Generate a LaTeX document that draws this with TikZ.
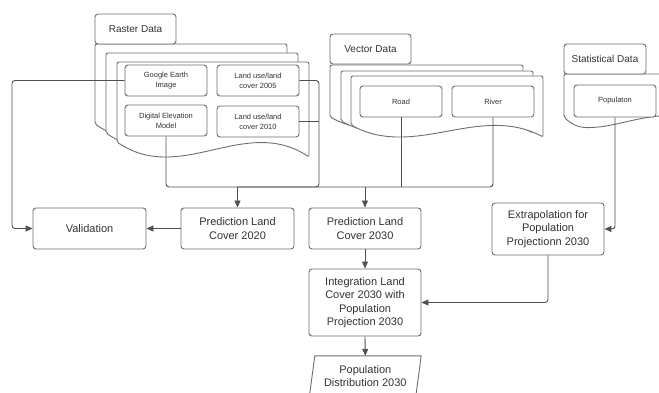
\documentclass[tikz,border=0pt]{standalone}
\usepackage{fontspec}
\setmainfont{Liberation Sans}
\usetikzlibrary{arrows.meta}
\definecolor{ln}{HTML}{505050}
\definecolor{bx}{HTML}{6E6E6E}
\definecolor{tx}{HTML}{333333}
\tikzset{
 box/.style={draw=bx, line width=0.9pt, rounded corners=3pt, fill=white, align=center, text=tx, inner sep=0pt},
 big/.style={box, font=\fontsize{11}{13.5}\selectfont},
 small/.style={box, font=\fontsize{7.5}{10}\selectfont, minimum width=82pt, minimum height=31pt},
 lab/.style={box, font=\fontsize{10}{12}\selectfont, minimum width=81pt, minimum height=30pt},
 sheet/.style={draw=bx, line width=0.9pt, fill=white, rounded corners=2pt},
 conn/.style={draw=ln, line width=0.9pt, rounded corners=3pt},
 arr/.style={conn, -{Triangle[length=7pt,width=6pt]}},
}
\newcommand{\docsheet}[5]{%
 \draw[sheet] (#1,#4) -- (#1,#2) -- ({#1+#3},#2) -- ({#1+#3},{#4+15*#5}) .. controls ({#1+2*#3/3},{#4-27*#5}) and ({#1+#3/3},{#4+43*#5}) .. (#1,#4) -- cycle;}
\begin{document}
\begin{tikzpicture}[x=1pt,y=-1pt]
\useasboundingbox (0,0) rectangle (659,393);
\clip (0,0) rectangle (659,393);
% raster sheets
\docsheet{95}{44}{192}{124}{1}
\docsheet{106}{53}{192}{133}{1}
\docsheet{117}{62}{192}{142}{1}
% vector sheets
\docsheet{330}{65}{193}{117}{0.8}
\docsheet{341}{71}{192}{121}{0.8}
\docsheet{351}{76}{192}{125}{0.8}
% statistical sheet
\draw[sheet] (564,117) -- (564,74) -- (675,74) -- (675,116) .. controls (645,114) and (615,127) .. (590,127.5) .. controls (578,128) and (570,123) .. (564,117) -- cycle;
% labels
\node[lab] (rlab) at (135.5,29) {Raster Data};
\node[lab] (vlab) at (370.5,49) {Vector Data};
\node[lab, minimum width=82pt] (slab) at (605,59) {Statistical Data};
% inner boxes
\node[small] (gee) at (166,80.5) {Google Earth\\Image};
\node[small] (lu05) at (258,80.5) {Land use/land\\cover 2005};
\node[small] (dem) at (166,120.5) {Digital Elevation\\Model};
\node[small] (lu10) at (258,121.5) {Land use/land\\cover 2010};
\node[small] (road) at (401,101.5) {Road};
\node[small] (river) at (493,101.5) {River};
\node[small, minimum height=32pt] (pop) at (615,101) {Populaton};
% process boxes
\node[big, minimum width=113pt, minimum height=41pt] (val) at (89.5,228.5) {Validation};
\node[big, minimum width=113pt, minimum height=41pt] (pl20) at (237.5,228.5) {Prediction Land\\Cover 2020};
\node[big, minimum width=112pt, minimum height=41pt] (pl30) at (365,228.5) {Prediction Land\\Cover 2030};
\node[big, minimum width=112pt, minimum height=67pt] (integ) at (365,302.5) {Integration Land\\Cover 2030 with\\Population\\Projection 2030};
\node[big, minimum width=112pt, minimum height=52pt] (extra) at (548,229) {Extrapolation for\\Population\\Projectionn 2030};
\node[font=\fontsize{11}{13.5}\selectfont, text=tx, align=center, minimum width=106pt, minimum height=40pt, inner sep=0pt] (popd) at (365.3,376) {Population\\Distribution 2030};
\draw[draw=bx, line width=0.9pt] ([xshift=2.7pt]popd.north west) -- ([xshift=2.7pt]popd.north east) -- ([xshift=-2.7pt]popd.south east) -- ([xshift=-2.7pt]popd.south west) -- cycle;
% connectors
\coordinate (rb) at (319,187);
\coordinate (lx) at (12,0);
\draw[conn] (dem.south) |- (rb) -- (rb |- lu05.east) -- (lu05.east);
\draw[conn] (lu10.east) -- (rb |- lu10.east);
\draw[conn] (road.south) -- (road.south |- rb);
\draw[conn] (river.south) |- (pl20.north |- rb);
\draw[arr] (pl20.north |- rb) -- (pl20.north);
\draw[arr] (pl30.north |- rb) -- (pl30.north);
\draw[arr] (gee.west) -| (lx |- val.west) -- (val.west);
\draw[arr] (pl20.west) -- (val.east);
\draw[arr] (pl30.south) -- (integ.north);
\draw[arr] (integ.south) -- (popd.north);
\draw[arr] (pop.south) |- (extra.east);
\draw[arr] (extra.south) |- (integ.east);
\end{tikzpicture}
\end{document}
